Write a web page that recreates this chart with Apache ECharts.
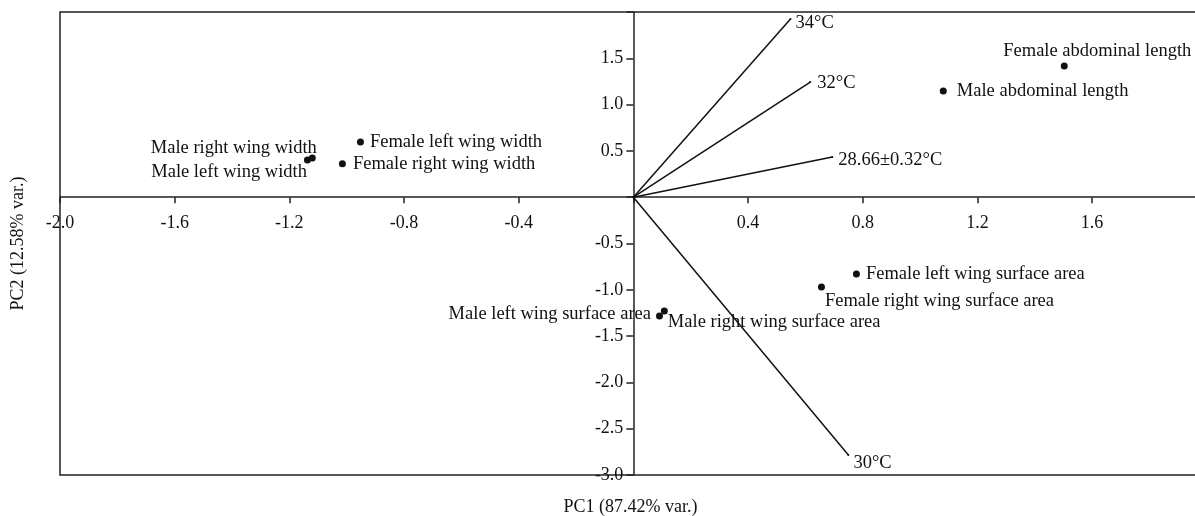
<!DOCTYPE html>
<html>
<head>
<meta charset="utf-8">
<script src="https://cdn.jsdelivr.net/npm/echarts@6/dist/echarts.min.js"></script>
<style>
  html, body { margin: 0; padding: 0; background: #fff; }
  #chart { width: 1195px; height: 516px; }
</style>
</head>
<body>
<div id="chart"></div>
<script>
  // variables (points)
  const pointNames = [
    'Female abdominal length',
    'Male abdominal length',
    'Female left wing width',
    'Female right wing width',
    'Male right wing width',
    'Male left wing width',
    'Male left wing surface area',
    'Male right wing surface area',
    'Female left wing surface area',
    'Female right wing surface area',
  ];
  const pointPC1 = [1.503, 1.081, -0.952, -1.015, -1.12, -1.137, 0.091, 0.108, 0.778, 0.656];
  const pointPC2 = [1.417, 1.147, 0.596, 0.36, 0.423, 0.402, -1.283, -1.229, -0.829, -0.97];

  // temperature vectors
  const vectorNames = ['34°C', '32°C', '28.66±0.32°C', '30°C'];
  const vectorPC1 = [0.548, 0.617, 0.694, 0.75];
  const vectorPC2 = [1.924, 1.244, 0.434, -2.784];

  const xTickLabels = ['-2.0', '-1.6', '-1.2', '-0.8', '-0.4', '0.4', '0.8', '1.2', '1.6'];
  const yTickLabels = ['1.5', '1.0', '0.5', '-0.5', '-1.0', '-1.5', '-2.0', '-2.5', '-3.0'];

  const xMin = -2.0, xMax = 1.966;
  const yMin = -3.0, yMax = 2.0;

  const font = "'Liberation Serif', 'Times New Roman', serif";
  const ink = '#111';

  // where each label sits relative to its mark
  const pointLabelPos = {
    'Female abdominal length': { position: 'top', distance: 2, offset: [33, 0] },
    'Male abdominal length': { position: 'right', distance: 10 },
    'Female left wing width': { position: 'right', distance: 6 },
    'Female right wing width': { position: 'right', distance: 7 },
    'Male right wing width': { position: 'left', distance: 5, offset: [13, -10] },
    'Male left wing width': { position: 'left', distance: 5, offset: [8, 12] },
    'Male left wing surface area': { position: 'left', distance: 5, offset: [0, -2] },
    'Male right wing surface area': { position: 'right', distance: 0, offset: [0, 11] },
    'Female left wing surface area': { position: 'right', distance: 6 },
    'Female right wing surface area': { position: 'right', distance: 0, offset: [0, 14] },
  };
  const vectorLabelPos = {
    '34°C': { distance: 4, offset: [0, 4] },
    '32°C': { distance: 6, offset: [0, 1] },
    '28.66±0.32°C': { distance: 5, offset: [0, 3] },
    '30°C': { distance: 4, offset: [0, 8] },
  };

  const labelText = { fontFamily: font, fontSize: 18.5, color: ink };

  const el = document.getElementById('chart');
  const chart = echarts.init(el);

  // grid box, so the crossing axes can be shifted onto zero
  const gridLeft = 60, gridTop = 12, gridRight = -2, gridBottom = 41;
  const plotW = el.clientWidth - gridLeft - gridRight;
  const plotH = el.clientHeight - gridTop - gridBottom;
  const xZeroOffset = -((0 - xMin) / (xMax - xMin)) * plotW;
  const yZeroOffset = -((0 - yMin) / (yMax - yMin)) * plotH;

  const vectorSeries = vectorNames.map((name, i) => ({
    name: name,
    type: 'line',
    symbol: 'circle',
    symbolSize: 2,
    itemStyle: { color: ink },
    lineStyle: { color: ink, width: 1.5 },
    label: { show: false },
    emphasis: { disabled: true },
    data: [
      [0, 0],
      {
        value: [vectorPC1[i], vectorPC2[i]],
        label: Object.assign({ show: true, position: 'right', formatter: name }, labelText, vectorLabelPos[name]),
      },
    ],
  }));

  chart.setOption({
    animation: false,
    grid: {
      left: gridLeft,
      top: gridTop,
      right: gridRight,
      bottom: gridBottom,
      show: true,
      borderColor: '#222',
      borderWidth: 1.5,
      outerBoundsMode: 'none',
    },
    xAxis: {
      type: 'value',
      position: 'bottom',
      offset: yZeroOffset,
      min: xMin,
      max: xMax,
      interval: 0.4,
      axisLine: { onZero: false, lineStyle: { color: '#222', width: 1.5 } },
      axisTick: { length: 6, lineStyle: { color: '#222', width: 1.5 } },
      axisLabel: {
        margin: 17,
        fontFamily: font,
        fontSize: 18,
        color: ink,
        showMinLabel: true,
        showMaxLabel: false,
        formatter: (v) => {
          const s = v.toFixed(1);
          return xTickLabels.includes(s) ? s : '';
        },
      },
      splitLine: { show: false },
    },
    yAxis: {
      type: 'value',
      position: 'left',
      offset: xZeroOffset,
      min: yMin,
      max: yMax,
      interval: 0.5,
      axisLine: { onZero: false, lineStyle: { color: '#222', width: 1.5 } },
      axisTick: { length: 7, lineStyle: { color: '#222', width: 1.5 } },
      axisLabel: {
        margin: 10,
        fontFamily: font,
        fontSize: 18,
        color: ink,
        showMinLabel: true,
        formatter: (v) => {
          const s = v.toFixed(1);
          return yTickLabels.includes(s) ? s : '';
        },
      },
      splitLine: { show: false },
    },
    graphic: [
      {
        type: 'text',
        left: gridLeft + plotW / 2 - 69 + 4,
        top: 498,
        style: { text: 'PC1 (87.42% var.)', font: '18px ' + font, fill: ink },
      },
      {
        type: 'text',
        x: 9,
        y: gridTop + plotH / 2,
        rotation: Math.PI / 2,
        style: {
          text: 'PC2 (12.58% var.)',
          font: '18px ' + font,
          fill: ink,
          align: 'center',
          verticalAlign: 'top',
        },
      },
    ],
    series: [
      ...vectorSeries,
      {
        name: 'variables',
        type: 'scatter',
        symbolSize: 7,
        itemStyle: { color: ink, opacity: 1 },
        emphasis: { disabled: true },
        label: Object.assign({ show: true, formatter: '{b}' }, labelText),
        data: pointNames.map((name, i) => ({
          name: name,
          value: [pointPC1[i], pointPC2[i]],
          label: pointLabelPos[name],
        })),
      },
    ],
  });
</script>
</body>
</html>
